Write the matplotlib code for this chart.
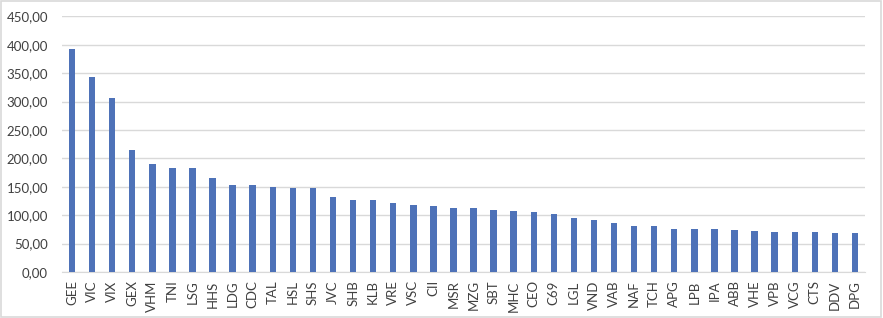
import numpy as np
import matplotlib
matplotlib.use("Agg")
import matplotlib.pyplot as plt
from matplotlib.ticker import FuncFormatter, MultipleLocator
from matplotlib.patches import Rectangle

ma_ck = ["GEE", "VIC", "VIX", "GEX", "VHM", "TNI", "LSG", "HHS", "LDG", "CDC",
         "TAL", "HSL", "SHS", "JVC", "SHB", "KLB", "VRE", "VSC", "CII", "MSR",
         "MZG", "SBT", "MHC", "CEO", "C69", "LGL", "VND", "VAB", "NAF", "TCH",
         "APG", "LPB", "IPA", "ABB", "VHE", "VPB", "VCG", "CTS", "DDV", "DPG"]
gia_tri = [393.0, 342.4, 305.9, 214.7, 190.5, 183.7, 183.7, 166.3, 153.6, 152.4,
           149.5, 148.5, 147.0, 131.5, 127.4, 126.2, 120.8, 118.5, 116.7, 111.9,
           111.9, 109.5, 107.7, 105.4, 101.2, 94.7, 91.8, 85.9, 80.6, 80.6,
           75.3, 75.3, 75.3, 74.1, 72.4, 71.2, 70.0, 70.0, 68.2, 68.2]

plt.rcParams['font.family'] = ['Lato', 'DejaVu Sans']

fig = plt.figure(figsize=(8.83, 3.18), dpi=100)
ax = fig.add_axes([0.0702, 0.1447, 0.9094, 0.804])

x = np.arange(len(ma_ck))
ax.bar(x, gia_tri, width=0.32, color='#4E72B8', zorder=3)

ax.set_xlim(-0.5, len(ma_ck) - 0.5)
ax.set_ylim(0, 450)
ax.yaxis.set_major_locator(MultipleLocator(50))
ax.yaxis.set_major_formatter(FuncFormatter(lambda v, p: f"{v:.2f}".replace('.', ',')))
ax.set_xticks(x)
ax.set_xticklabels(ma_ck, rotation=90)
ax.tick_params(axis='both', length=0, labelsize=9.5, colors='#404040')
ax.tick_params(axis='x', pad=6)
ax.tick_params(axis='y', pad=10)
ax.grid(axis='y', color='#D9D9D9', linewidth=1, zorder=0)
for s in ['top', 'right', 'left']:
    ax.spines[s].set_visible(False)
ax.spines['bottom'].set_color('#D9D9D9')

# khung ngoai
fig.patches.append(Rectangle((0.001, 0.002), 0.997, 0.995, transform=fig.transFigure,
                             fill=False, edgecolor='#D9D9D9', linewidth=1.2))

fig.savefig("out.png", dpi=100)
